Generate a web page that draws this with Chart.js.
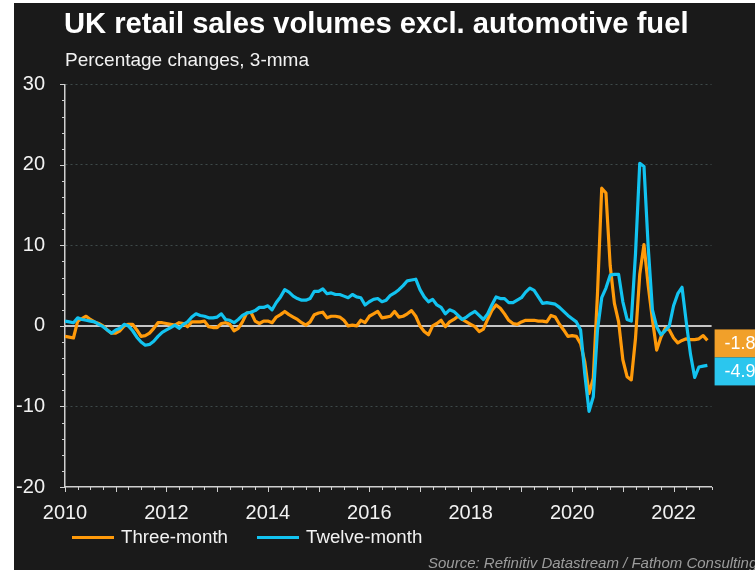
<!DOCTYPE html>
<html>
<head>
<meta charset="utf-8">
<script src="https://cdn.jsdelivr.net/npm/chart.js@4.4.1/dist/chart.umd.min.js"></script>
<style>
  body { margin: 0; background: #fff; }
  #wrap { position: relative; width: 755px; height: 570px; overflow: hidden; font-family: "Liberation Sans", Arial, sans-serif; }
  #bg { position: absolute; left: 14px; top: 3px; right: 0; bottom: 0; background: #1a1a1a; }
  canvas { position: absolute; left: 0; top: 0; }
  .txt { position: absolute; white-space: nowrap; }
  #title { left: 64px; top: 9px; font-size: 29.2px; line-height: 29.2px; font-weight: bold; color: #fff; }
  #subtitle { left: 65px; top: 50px; font-size: 19px; line-height: 19px; color: #f2f2f2; }
  .legline { position: absolute; top: 536px; height: 3px; width: 42px; }
  .legtxt { top: 528px; font-size: 18.7px; line-height: 18.7px; color: #f2f2f2; }
  #source { left: 428px; top: 555px; font-size: 15px; line-height: 15px; font-style: italic; color: #9c9c9c; }
</style>
</head>
<body>
<div id="wrap">
  <div id="bg"></div>
  <canvas id="myChart" width="755" height="570"></canvas>
  <div id="title" class="txt">UK retail sales volumes excl. automotive fuel</div>
  <div id="subtitle" class="txt">Percentage changes, 3-mma</div>
  <div class="legline" style="left:72px;background:#ff9a0a"></div>
  <div class="txt legtxt" style="left:121px">Three-month</div>
  <div class="legline" style="left:257px;background:#12c3f0"></div>
  <div class="txt legtxt" style="left:306px">Twelve-month</div>
  <div id="source" class="txt">Source: Refinitiv Datastream / Fathom Consulting</div>
</div>
<script>
// monthly data, Jan 2010 .. Sep 2022 (one row per year)
const startYear = 2010;

const threeMonth = [
  -1.3, -1.4, -1.5, 0.6, 0.9, 1.2, 0.8, 0.5, 0.3, 0.0, -0.5, -0.9,
  -0.9, -0.6, 0.0, 0.2, 0.2, -0.5, -1.3, -1.2, -0.9, -0.3, 0.4, 0.4,
  0.3, 0.2, 0.1, 0.4, 0.3, -0.1, 0.5, 0.5, 0.5, 0.6, -0.1, -0.2,
  -0.2, 0.3, 0.4, 0.2, -0.6, -0.3, 0.5, 1.6, 1.7, 0.6, 0.3, 0.6,
  0.6, 0.4, 1.1, 1.4, 1.8, 1.4, 1.1, 0.8, 0.4, 0.1, 0.5, 1.4,
  1.6, 1.7, 1.0, 1.2, 1.2, 1.1, 0.7, 0.0, 0.1, 0.0, 0.7, 0.4,
  1.2, 1.5, 1.8, 1.0, 1.1, 1.2, 1.8, 1.1, 1.2, 1.5, 1.9, 1.2,
  0.0, -0.7, -1.1, 0.0, 0.3, 0.7, -0.1, 0.5, 0.8, 1.2, 0.8, 0.5,
  0.2, -0.1, -0.7, -0.4, 0.8, 1.9, 2.6, 2.2, 1.5, 0.7, 0.3, 0.2,
  0.5, 0.7, 0.7, 0.7, 0.6, 0.6, 0.5, 1.3, 1.1, 0.2, -0.5, -1.3,
  -1.2, -1.3, -2.2, -4.5, -8.4, -6.5, 4.0, 17.1, 16.5, 7.5, 2.8, 0.5,
  -4.2, -6.3, -6.7, -1.5, 6.4, 10.1, 5.0, 0.8, -3.0, -1.4, -0.3, -0.5,
  -1.5, -2.1, -1.8, -1.6, -1.7, -1.7, -1.6, -1.2, -1.8
];

const twelveMonth = [
  0.6, 0.5, 0.4, 1.0, 0.8, 0.7, 0.6, 0.5, 0.2, -0.1, -0.5, -0.9,
  -0.5, -0.3, 0.2, 0.0, -0.6, -1.4, -2.0, -2.4, -2.3, -1.9, -1.3, -0.8,
  -0.5, -0.2, 0.1, -0.3, 0.2, 0.5, 1.1, 1.5, 1.3, 1.2, 1.0, 1.0,
  1.1, 1.5, 0.8, 0.7, 0.4, 0.8, 1.3, 1.6, 1.7, 1.9, 2.3, 2.3,
  2.5, 2.0, 2.9, 3.6, 4.5, 4.2, 3.7, 3.4, 3.2, 3.2, 3.4, 4.3,
  4.3, 4.6, 4.0, 4.1, 3.9, 3.9, 3.7, 3.5, 3.9, 3.6, 3.5, 2.6,
  3.0, 3.3, 3.4, 3.0, 3.2, 3.8, 4.1, 4.5, 5.0, 5.6, 5.7, 5.8,
  4.5, 3.6, 3.0, 3.3, 2.6, 2.3, 1.5, 2.0, 1.8, 1.3, 0.8, 1.1,
  1.5, 1.8, 1.3, 0.8, 1.5, 2.6, 3.6, 3.4, 3.4, 2.9, 2.9, 3.2,
  3.5, 4.2, 4.7, 4.4, 3.6, 2.8, 2.9, 2.8, 2.7, 2.3, 1.8, 1.3,
  0.9, 0.5, -0.5, -6.0, -10.6, -8.8, -0.5, 3.5, 4.7, 6.3, 6.4, 6.4,
  3.0, 0.8, 0.6, 9.0, 20.2, 19.8, 9.8, 2.0, -0.1, -1.1, -0.6, 0.0,
  2.5, 4.0, 4.8, 0.5, -3.5, -6.4, -5.1, -5.0, -4.9
];

const yLabelValues = [-20, -10, 0, 10, 20, 30];
const xLabelYears = [2010, 2012, 2014, 2016, 2018, 2020, 2022];

const orange = "#ff9a0a";
const blue = "#12c3f0";
const orangeBox = "#f1a02a";
const blueBox = "#2bc6ee";
const axisColor = "#cfcfcf";
const FONT = "'Liberation Sans', Arial, sans-serif";

function toPoints(values){
    return values.map((v, i) => ({ x: startYear + i / 12, y: v }));
}

// zero line + small tick marks on both axes
const axisExtras = {
    id: "axisExtras",
    beforeDatasetsDraw(chart){
        const { ctx, chartArea, scales: { x, y } } = chart;
        ctx.save();
        ctx.strokeStyle = "#ffffff";
        ctx.lineWidth = 1.5;
        const y0 = y.getPixelForValue(0);
        ctx.beginPath();
        ctx.moveTo(chartArea.left, y0);
        ctx.lineTo(chartArea.right, y0);
        ctx.stroke();

        ctx.strokeStyle = axisColor;
        ctx.lineWidth = 1;
        y.ticks.forEach(t => {
            const py = Math.round(y.getPixelForValue(t.value)) + 0.5;
            const len = t.value % 10 === 0 ? 5 : 3;
            ctx.beginPath();
            ctx.moveTo(chartArea.left - len, py);
            ctx.lineTo(chartArea.left, py);
            ctx.stroke();
        });
        x.ticks.forEach(t => {
            const px = Math.round(x.getPixelForValue(t.value)) + 0.5;
            const len = Number.isInteger(t.value) ? 5 : 3;
            ctx.beginPath();
            ctx.moveTo(px, chartArea.bottom);
            ctx.lineTo(px, chartArea.bottom + len);
            ctx.stroke();
        });
        ctx.restore();
    }
};

// last-value boxes on the right edge
const endLabels = {
    id: "endLabels",
    afterDatasetsDraw(chart){
        const { ctx, chartArea, scales: { y } } = chart;
        const items = [
            { value: threeMonth[threeMonth.length - 1], color: orangeBox },
            { value: twelveMonth[twelveMonth.length - 1], color: blueBox }
        ].sort((a, b) => b.value - a.value);
        let prevBottom = -Infinity;
        ctx.save();
        ctx.font = "18px " + FONT;
        ctx.textBaseline = "middle";
        items.forEach(item => {
            const top = Math.max(y.getPixelForValue(item.value) - 11, prevBottom);
            ctx.fillStyle = item.color;
            ctx.fillRect(chartArea.right + 3, top, 60, 28);
            ctx.fillStyle = "#ffffff";
            ctx.fillText(item.value.toFixed(1), chartArea.right + 13, top + 14.5);
            prevBottom = top + 28;
        });
        ctx.restore();
    }
};

new Chart("myChart", {
    type: "line",
    data: {
        datasets: [
            {
                label: "Three-month",
                data: toPoints(threeMonth),
                borderColor: orange,
                backgroundColor: orange,
                borderWidth: 3.2,
                pointRadius: 0,
                tension: 0,
                borderJoinStyle: "round",
                order: 1
            },
            {
                label: "Twelve-month",
                data: toPoints(twelveMonth),
                borderColor: blue,
                backgroundColor: blue,
                borderWidth: 3.2,
                pointRadius: 0,
                tension: 0,
                borderJoinStyle: "round",
                order: 0
            }
        ]
    },
    options: {
        responsive: false,
        animation: false,
        layout: { padding: { top: 84.3, right: 43.4, bottom: 43, left: 0 } },
        plugins: {
            legend: { display: false },
            tooltip: { enabled: false }
        },
        scales: {
            x: {
                type: "linear",
                min: 2010,
                max: 2022.75,
                afterFit: s => { s.height = 40; },
                ticks: {
                    stepSize: 0.25,
                    autoSkip: false,
                    maxRotation: 0,
                    padding: 6,
                    color: "#f2f2f2",
                    font: { family: FONT, size: 20 },
                    callback: v => xLabelYears.includes(v) ? String(v) : ""
                },
                grid: { display: false },
                border: { color: axisColor, width: 1.5 }
            },
            y: {
                min: -20,
                max: 30,
                afterFit: s => { s.width = 65; },
                ticks: {
                    stepSize: 2,
                    autoSkip: false,
                    padding: 20,
                    color: "#f2f2f2",
                    font: { family: FONT, size: 20 },
                    callback: v => yLabelValues.includes(v) ? String(v) : ""
                },
                grid: {
                    drawTicks: false,
                    lineWidth: 1,
                    color: c => (c.tick && c.tick.value % 10 === 0 && c.tick.value > 0 || c.tick && c.tick.value === -10) ? "#3e4a4a" : "rgba(0,0,0,0)"
                },
                border: { color: axisColor, width: 1.5, dash: [2, 3] }
            }
        }
    },
    plugins: [axisExtras, endLabels]
});
</script>
</body>
</html>
